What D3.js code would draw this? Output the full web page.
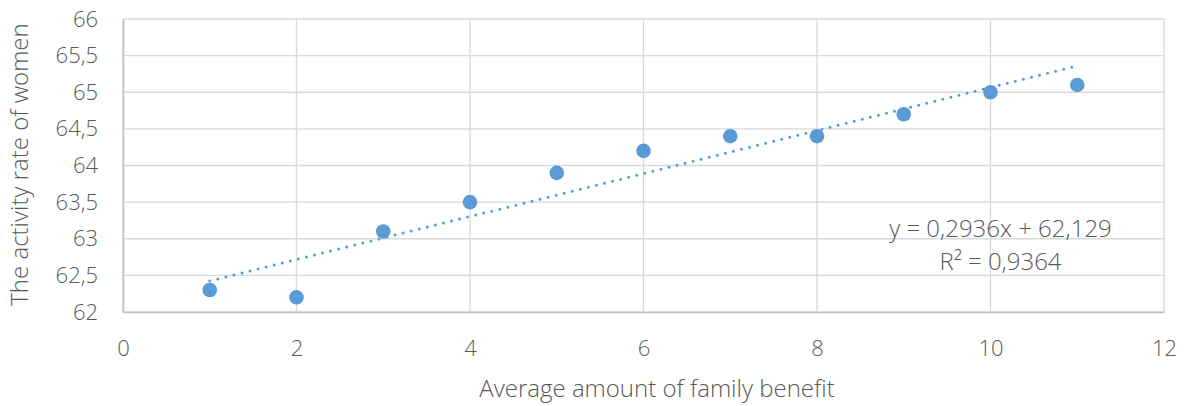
<!DOCTYPE html>
<html>
<head>
<meta charset="utf-8">
<script src="https://cdn.jsdelivr.net/npm/d3@7"></script>
<style>
  body { margin: 0; background: #fff; }
  text { font-family: "Open Sans", sans-serif; font-weight: 300; fill: #595959; }
</style>
</head>
<body>
<svg id="chart" width="1186" height="406"></svg>
<script>
// data
const benefit = [1, 2, 3, 4, 5, 6, 7, 8, 9, 10, 11];
const activityRate = [62.3, 62.2, 63.1, 63.5, 63.9, 64.2, 64.4, 64.4, 64.7, 65.0, 65.1];
const xTicks = [0, 2, 4, 6, 8, 10, 12];
const yTicks = [62, 62.5, 63, 63.5, 64, 64.5, 65, 65.5, 66];
const eqLines = ["y = 0,2936x + 62,129", "R² = 0,9364"];

const svg = d3.select("#chart"),
    margin = { top: 19, right: 22, bottom: 94, left: 123 },
    width = +svg.attr("width") - margin.left - margin.right,
    height = +svg.attr("height") - margin.top - margin.bottom,
    g = svg.append("g").attr("transform", "translate(" + margin.left + "," + margin.top + ")");

const x = d3.scaleLinear().domain([0, 12]).range([0, width]);
const y = d3.scaleLinear().domain([62, 66]).range([height, 0]);
const fmt = d => String(d).replace(".", ",");

// gridlines
g.append("g").selectAll("line").data(yTicks).join("line")
    .attr("x1", 0).attr("x2", width)
    .attr("y1", d => y(d)).attr("y2", d => y(d))
    .style("stroke", "#d9d9d9").style("stroke-width", 1.3);
g.append("g").selectAll("line").data(xTicks).join("line")
    .attr("x1", d => x(d)).attr("x2", d => x(d))
    .attr("y1", 0).attr("y2", height)
    .style("stroke", "#d9d9d9").style("stroke-width", 1.3);

// axes
const xAxis = g.append("g")
    .attr("transform", "translate(0," + height + ")")
    .call(d3.axisBottom(x).tickValues(xTicks).tickSize(0).tickPadding(28).tickFormat(fmt));
const yAxis = g.append("g")
    .call(d3.axisLeft(y).tickValues(yTicks).tickSize(0).tickPadding(25).tickFormat(fmt));
[xAxis, yAxis].forEach(a => {
    a.select(".domain").style("stroke", "#bfbfbf").style("stroke-width", 1.5);
    a.selectAll("text").style("font-size", "22px").style("fill", "#595959").style("font-family", "\"Open Sans\", sans-serif");
});

// trendline (least squares)
const mx = d3.mean(benefit), my = d3.mean(activityRate);
const slope = d3.sum(benefit, (v, i) => (v - mx) * (activityRate[i] - my)) / d3.sum(benefit, v => (v - mx) ** 2);
const icpt = my - slope * mx;
const xs = d3.extent(benefit);
g.append("path")
    .datum(xs)
    .attr("d", d3.line().x(d => x(d)).y(d => y(icpt + slope * d)))
    .style("fill", "none")
    .style("stroke", "#5b9bd5")
    .style("stroke-width", 3)
    .style("stroke-linecap", "round")
    .style("stroke-dasharray", "0,8.3");

// points
g.append("g").selectAll("circle").data(benefit).join("circle")
    .attr("cx", d => x(d))
    .attr("cy", (d, i) => y(activityRate[i]))
    .attr("r", 7.3)
    .style("fill", "#5b9bd5");

// equation label
g.append("text")
    .attr("text-anchor", "middle")
    .attr("transform", "translate(" + x(10.115) + "," + y(63.02) + ")")
    .selectAll("tspan").data(eqLines).join("tspan")
    .attr("x", 0)
    .attr("dy", (d, i) => i === 0 ? 0 : 33)
    .style("font-size", "24px")
    .text(d => d);

// axis titles
svg.append("text")
    .attr("x", 657)
    .attr("y", 397)
    .attr("text-anchor", "middle")
    .style("font-size", "24px")
    .text("Average amount of family benefit");
svg.append("text")
    .attr("transform", "rotate(-90)")
    .attr("x", -(margin.top + height / 2 - 1))
    .attr("y", 28)
    .attr("text-anchor", "middle")
    .style("font-size", "24px")
    .text("The activity rate of women");
</script>
</body>
</html>
